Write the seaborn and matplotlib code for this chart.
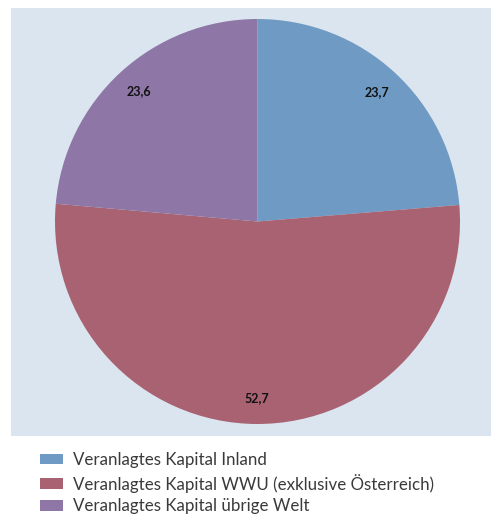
import matplotlib
matplotlib.use("Agg")
import matplotlib.pyplot as plt
import seaborn as sns
from matplotlib.patches import Patch

categories = ["Veranlagtes Kapital Inland",
              "Veranlagtes Kapital WWU (exklusive Österreich)",
              "Veranlagtes Kapital übrige Welt"]
values = [23.7, 52.7, 23.6]
colors = ["#6f9ac4", "#a86272", "#8e76a6"]
bg = "#dbe5f0"

sns.set_style("white")
plt.rcParams["font.family"] = ["Lato", "DejaVu Sans"]

W, H = 491, 515
fig = plt.figure(figsize=(W / 100, H / 100), dpi=100)
fig.patch.set_facecolor("white")

panel = fig.add_axes([11 / W, (H - 436) / H, 480 / W, 428 / H])
panel.set_facecolor(bg)
panel.set_xticks([]); panel.set_yticks([])
for s in panel.spines.values():
    s.set_visible(False)

r_px = 202.5
cx, cy = 257.5, 221.5
ax = fig.add_axes([(cx - r_px) / W, (H - cy - r_px) / H, 2 * r_px / W, 2 * r_px / H])
ax.set_facecolor("none")

labels_iter = iter(values)
wedges, texts, autotexts = ax.pie(
    values, colors=colors, startangle=90, counterclock=False,
    autopct=lambda p: f"{next(labels_iter):.1f}".replace(".", ","),
    pctdistance=0.87, radius=1.0,
    wedgeprops=dict(linewidth=0, edgecolor="none"),
    textprops=dict(fontsize=9, fontweight="bold", color="#111111"))
ax.set_xlim(-1, 1); ax.set_ylim(-1, 1)
ax.set_aspect("equal")
ax.axis("off")

handles = [Patch(facecolor=c, edgecolor="none") for c in colors]
fig.legend(handles, categories, loc="upper left",
           bbox_to_anchor=(40 / W, (H - 452) / H), frameon=False,
           fontsize=12.2, handlelength=1.35, handleheight=0.6,
           handletextpad=0.6, labelspacing=0.33, borderaxespad=0,
           borderpad=0, labelcolor="#3a3a3a")

fig.savefig("out.png", dpi=100, facecolor="white")
